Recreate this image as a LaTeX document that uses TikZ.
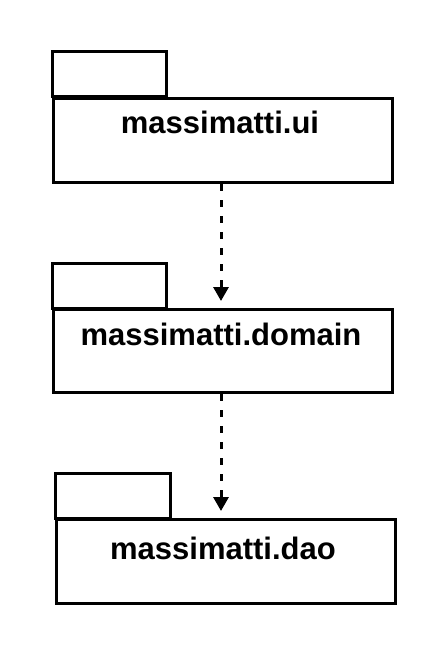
\documentclass[tikz,border=0pt]{standalone}
\usepackage{fontspec}
\setmainfont{Liberation Sans}
\usetikzlibrary{arrows.meta}
\begin{document}
\begin{tikzpicture}[x=1pt,y=-1pt,
  pkg/.style={draw=black,line width=3pt,fill=white},
  lbl/.style={font=\fontsize{31}{36}\selectfont\bfseries,anchor=base,inner sep=0pt},
  dep/.style={draw=black,line width=3pt,dash pattern=on 7pt off 9pt,-{Triangle[length=14pt,width=15pt]}}]
\useasboundingbox (0,0) rectangle (446,655);
\fill[white] (0,0) rectangle (446,655);
% package ui
\draw[pkg] (52,52) rectangle (166,97);
\node[pkg,minimum width=339pt,minimum height=84pt,anchor=north west,inner sep=0pt] (ui) at (52,97) {};
\node[lbl] (uit) at (220,134) {massimatti.ui};
% package domain
\draw[pkg] (52,263) rectangle (166,308);
\node[pkg,minimum width=339pt,minimum height=83pt,anchor=north west,inner sep=0pt] (dom) at (52,308) {};
\node[lbl] (domt) at (221,345) {massimatti.domain};
% package dao
\draw[pkg] (55,473) rectangle (170,518);
\node[pkg,minimum width=339pt,minimum height=84pt,anchor=north west,inner sep=0pt] (dao) at (55,518) {};
\node[lbl] (daot) at (223,559) {massimatti.dao};
% dependencies
\draw[dep] (ui.south -| 221,0) -- ([yshift=7pt]dom.north -| 221,0);
\draw[dep] (dom.south -| 221,0) -- ([yshift=7pt]dao.north -| 221,0);
\end{tikzpicture}
\end{document}
